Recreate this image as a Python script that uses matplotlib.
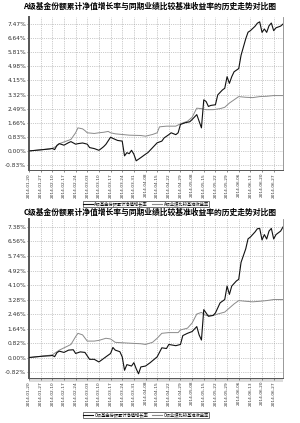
import matplotlib
matplotlib.use("Agg")
import matplotlib.pyplot as plt
import numpy as np
from matplotlib.patches import Rectangle

plt.rcParams["font.family"] = ["Noto Sans CJK SC", "DejaVu Sans"]

# --- data (trading-day index, cumulative return in %) ---
dates = ["2014-01-20", "2014-01-27", "2014-02-10", "2014-02-17", "2014-02-24",
         "2014-03-03", "2014-03-10", "2014-03-17", "2014-03-24", "2014-03-31",
         "2014-04-08", "2014-04-15", "2014-04-22", "2014-04-29", "2014-05-08",
         "2014-05-15", "2014-05-22", "2014-05-29", "2014-06-06", "2014-06-13",
         "2014-06-20", "2014-06-27"]

a_fund_day = [0, 3, 6, 9, 10, 11, 12, 13, 15, 17, 18, 20, 21, 23, 25, 26, 28, 30, 31, 32,
              33, 35, 36, 38, 40, 41, 42, 43, 44, 45, 46, 48, 50, 51, 53, 55, 57, 58, 60, 61,
              63, 64, 65, 67, 69, 70, 72, 73, 74, 75, 76, 77, 78, 80, 81, 83, 84, 85, 86, 87,
              88, 90, 91, 93, 94, 95, 97, 98, 99, 100, 101, 102, 103, 104, 105, 106, 108, 109]
a_fund = [0.00, 0.04, 0.08, 0.12, 0.15, 0.08, 0.33, 0.43, 0.34, 0.49, 0.55, 0.40, 0.43, 0.47,
          0.40, 0.20, 0.14, 0.04, 0.14, 0.25, 0.39, 0.81, 0.74, 0.62, 0.58, -0.29, -0.10,
          -0.16, 0.04, -0.19, -0.58, -0.39, -0.19, -0.10, 0.19, 0.48, 0.58, 0.77, 0.96, 1.07,
          0.96, 1.07, 1.56, 1.66, 1.72, 1.85, 2.14, 1.75, 1.36, 3.01, 2.91, 2.62, 2.68, 2.72,
          3.30, 3.59, 3.69, 4.37, 3.98, 4.37, 4.66, 4.85, 5.63, 6.60, 6.99, 7.08, 7.34, 7.52,
          7.60, 6.98, 7.18, 6.98, 7.37, 7.53, 7.08, 7.25, 7.35, 7.47]

a_bench_day = [0, 6, 10, 12, 13, 16, 18, 20, 21, 23, 24, 25, 28, 30, 32, 34, 35, 37, 40, 43,
               48, 50, 53, 55, 56, 59, 63, 65, 68, 70, 72, 74, 76, 79, 82, 84, 86, 88, 90, 93,
               96, 99, 102, 105, 109]
a_bench = [0.00, 0.08, 0.15, 0.30, 0.43, 0.58, 0.68, 1.07, 1.36, 1.30, 1.20, 1.07, 1.03, 1.07,
           1.10, 1.15, 1.07, 1.01, 0.97, 0.93, 0.91, 0.87, 0.97, 1.07, 1.42, 1.46, 1.46, 1.60,
           1.75, 1.98, 2.52, 2.49, 2.43, 2.43, 2.49, 2.57, 2.82, 3.01, 3.20, 3.16, 3.14, 3.20,
           3.22, 3.26, 3.26]

c_fund_day = [0, 3, 6, 9, 10, 11, 12, 13, 15, 17, 19, 20, 22, 24, 26, 28, 30, 33, 35, 36,
              37, 39, 40, 41, 42, 44, 45, 46, 47, 48, 50, 52, 55, 57, 59, 60, 63, 65, 66, 68,
              70, 72, 73, 74, 75, 76, 77, 79, 80, 82, 84, 85, 86, 87, 89, 90, 91, 93, 94, 95,
              97, 98, 99, 100, 101, 102, 103, 104, 105, 106, 108, 109]
c_fund = [0.00, 0.04, 0.08, 0.10, 0.12, 0.05, 0.28, 0.36, 0.29, 0.42, 0.44, 0.23, 0.32, 0.29,
          -0.10, -0.10, -0.25, 0.04, 0.23, 0.57, 0.42, 0.33, 0.04, -0.72, -0.40, -0.48, -0.29,
          -0.63, -0.92, -0.53, -0.48, -0.29, 0.04, 0.55, 0.51, 0.74, 0.67, 0.74, 1.24, 1.37,
          1.47, 1.75, 1.28, 0.99, 2.71, 2.52, 2.33, 2.38, 2.52, 3.09, 3.28, 4.04, 3.57, 4.04,
          4.33, 4.42, 5.38, 6.14, 6.71, 6.81, 7.10, 7.28, 7.30, 6.65, 6.95, 6.70, 7.15, 7.30,
          6.70, 6.95, 7.15, 7.38]

c_bench_day = [0, 6, 10, 12, 13, 16, 18, 20, 21, 23, 25, 28, 30, 33, 35, 37, 42, 48, 50, 53,
               55, 57, 60, 64, 65, 68, 70, 72, 74, 76, 79, 81, 84, 86, 88, 90, 93, 96, 99, 102,
               105, 109]
c_bench = [0.00, 0.08, 0.15, 0.33, 0.42, 0.61, 0.74, 1.18, 1.37, 1.28, 0.93, 0.93, 0.97, 1.09,
           1.05, 0.86, 0.82, 0.78, 0.74, 0.86, 1.09, 1.37, 1.41, 1.41, 1.56, 1.66, 1.95, 2.46,
           2.55, 2.38, 2.38, 2.46, 2.57, 2.80, 3.03, 3.22, 3.18, 3.15, 3.18, 3.22, 3.28, 3.28]

a_ticks = [-0.83, 0.00, 0.83, 1.66, 2.49, 3.32, 4.15, 4.98, 5.81, 6.64, 7.47]
c_ticks = [-0.82, 0.00, 0.82, 1.64, 2.46, 3.28, 4.10, 4.92, 5.74, 6.56, 7.38]

charts = [
    ("A级基金份额累计净值增长率与同期业绩比较基准收益率的历史走势对比图",
     a_fund_day, a_fund, a_bench_day, a_bench, a_ticks,
     "A级基金份额累计净值增长率", "A级业绩比较基准收益率"),
    ("C级基金份额累计净值增长率与同期业绩比较基准收益率的历史走势对比图",
     c_fund_day, c_fund, c_bench_day, c_bench, c_ticks,
     "C级基金份额累计净值增长率", "C级业绩比较基准收益率"),
]

W, H = 300, 423
fig = plt.figure(figsize=(W / 100, H / 100), dpi=100)
fig.patch.set_facecolor("white")

# per chart: plot top, plot bottom, title y, legend y (pixels); margins in tick steps
layout = [(17, 170, 6, 204, 0.5, 0.35, False),
          (219, 378, 212, 415, 0.55, 0.41, True)]
left, right = 29, 283

for (title, fd, fv, bd, bv, ticks, lab1, lab2), lay in zip(charts, layout):
    top, bot, ty, ly, mtop, mbot, band = lay
    ax = fig.add_axes([left / W, 1 - bot / H, (right - left) / W, (bot - top) / H])
    ax.plot(bd, bv, color="#8a8a8a", lw=0.7, zorder=3)
    ax.plot(fd, fv, color="#111111", lw=0.8, zorder=4)
    step = ticks[1] - ticks[0]
    ax.set_ylim(ticks[0] - mbot * step, ticks[-1] + mtop * step)
    ax.set_xlim(0, 109)
    ax.set_yticks(ticks)
    ax.set_yticklabels([f"{t:.2f}%" for t in ticks], fontsize=4.2, family="DejaVu Sans",
                       color="#333333")
    xt = np.arange(0, 5 * len(dates), 5)
    ax.set_xticks(xt)
    ax.set_xticklabels(dates, rotation=90, fontsize=3.1, family="DejaVu Sans")
    ax.grid(True, ls=":", lw=0.5, color="#9a9a9a")
    ax.tick_params(length=1.5, width=0.4, pad=0.6, colors="#333333")
    ax.spines["top"].set_visible(False)
    ax.spines["right"].set_color("#888888")
    ax.spines["right"].set_linewidth(0.6)
    ax.spines["left"].set_color("#555555")
    ax.spines["left"].set_linewidth(1.4)
    ax.spines["bottom"].set_color("#555555")
    ax.spines["bottom"].set_linewidth(0.7)
    if band:
        ax.add_patch(Rectangle((0, -4 / (bot - top)), 1, 4 / (bot - top),
                               transform=ax.transAxes, clip_on=False,
                               facecolor="#dcdcdc", edgecolor="none", zorder=0))
    fig.text(0.5, 1 - ty / H, title, ha="center", va="center",
             fontsize=5.6, fontweight="bold")
    h1, = ax.plot([], [], color="#111111", lw=0.8)
    h2, = ax.plot([], [], color="#8a8a8a", lw=0.8)
    leg = fig.legend([h1, h2], [lab1, lab2], loc="center",
                     bbox_to_anchor=(146 / W, 1 - ly / H), ncol=2, fontsize=3.1,
                     frameon=True, fancybox=False, edgecolor="#333333",
                     handlelength=2.2, handletextpad=0.4, columnspacing=1.0,
                     borderpad=0.15, handleheight=0.5)
    leg.get_frame().set_linewidth(0.6)

fig.savefig("out.png", dpi=100)
